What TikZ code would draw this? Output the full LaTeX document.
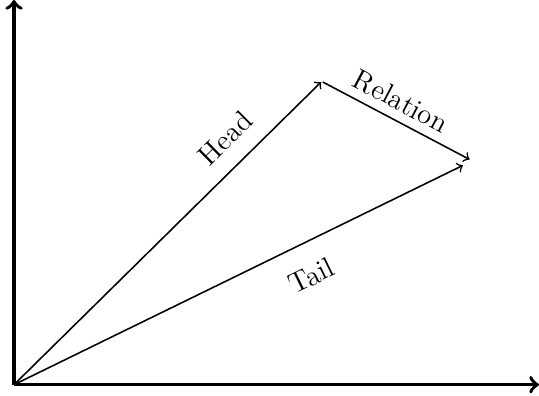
\documentclass[tikz,border=0pt]{standalone}
\usepackage{tikz}

\begin{document}
\begin{tikzpicture}[semithick, font=\fontsize{11}{13}\selectfont]
  \useasboundingbox (-0.19,-0.14) rectangle (7.11,5.21);
  % key points: origin, axis ends and vector tips
  \coordinate (o)  at (0,0);
  \coordinate (xe) at (7.11,0);
  \coordinate (ye) at (0,5.21);
  \coordinate (h)  at (4.16,4.1);
  \coordinate (r)  at (4.18,4.1);
  \coordinate (t)  at (6.08,2.97);
  \coordinate (re) at (6.17,3.05);
  % axes
  \draw[->, line width=1.4pt] (o) -- (xe);
  \draw[->, line width=1.4pt] (o) -- (ye);
  % vectors
  \draw[->] (o) -- node[pos=0.75, sloped, above, yshift=3pt] {Head} (h);
  \draw[->] (o) -- node[pos=0.63, sloped, below, yshift=-5pt] {Tail} (t);
  \draw[->] (r) -- node[pos=0.47, sloped, above] {Relation} (re);
\end{tikzpicture}
\end{document}
